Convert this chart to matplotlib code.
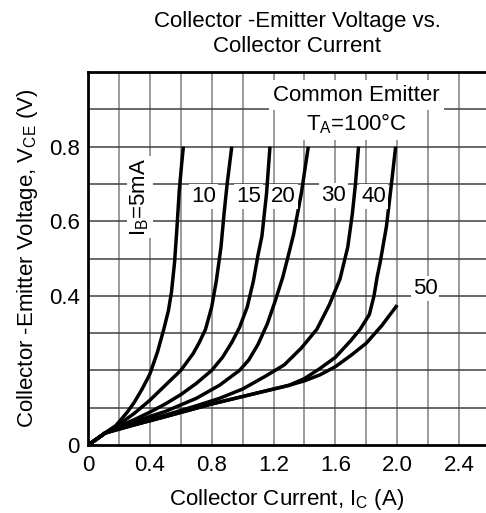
import matplotlib
matplotlib.use("Agg")
import matplotlib.pyplot as plt

plt.rcParams['font.family'] = ['Liberation Sans', 'DejaVu Sans']

# Data (I_C in A, V_CE in V)
ic_5 = [0, 0.06, 0.11, 0.18, 0.25, 0.30, 0.35, 0.40, 0.45, 0.49, 0.52, 0.54, 0.56, 0.575, 0.59, 0.605, 0.617]
vce_5 = [0, 0.017, 0.032, 0.052, 0.086, 0.115, 0.15, 0.19, 0.25, 0.31, 0.36, 0.41, 0.49, 0.58, 0.68, 0.75, 0.8]

ic_10 = [0, 0.06, 0.11, 0.2, 0.3, 0.4, 0.5, 0.6, 0.68, 0.72, 0.76, 0.80, 0.83, 0.86, 0.88, 0.90, 0.93]
vce_10 = [0, 0.017, 0.032, 0.055, 0.085, 0.12, 0.16, 0.2, 0.245, 0.275, 0.31, 0.37, 0.44, 0.53, 0.62, 0.70, 0.8]

ic_15 = [0, 0.06, 0.11, 0.2, 0.3, 0.4, 0.5, 0.6, 0.7, 0.8, 0.87, 0.93, 0.98, 1.03, 1.07, 1.10, 1.125, 1.155, 1.177]
vce_15 = [0, 0.017, 0.032, 0.05, 0.068, 0.088, 0.11, 0.135, 0.165, 0.2, 0.235, 0.275, 0.315, 0.37, 0.44, 0.51, 0.56, 0.675, 0.8]

ic_20 = [0, 0.06, 0.11, 0.3, 0.5, 0.7, 0.85, 0.98, 1.04, 1.10, 1.16, 1.21, 1.26, 1.30, 1.33, 1.38, 1.425]
vce_20 = [0, 0.017, 0.032, 0.063, 0.09, 0.125, 0.16, 0.2, 0.228, 0.27, 0.325, 0.385, 0.45, 0.515, 0.565, 0.675, 0.8]

ic_30 = [0, 0.06, 0.11, 0.3, 0.5, 0.7, 0.85, 1.0, 1.15, 1.27, 1.38, 1.48, 1.56, 1.63, 1.68, 1.71, 1.73, 1.75]
vce_30 = [0, 0.017, 0.032, 0.058, 0.08, 0.105, 0.125, 0.15, 0.185, 0.215, 0.26, 0.31, 0.375, 0.445, 0.53, 0.62, 0.70, 0.8]

ic_40 = [0, 0.06, 0.11, 0.3, 0.5, 0.8, 1.0, 1.2, 1.3, 1.4, 1.5, 1.6, 1.7, 1.76, 1.82, 1.85, 1.87, 1.89, 1.93, 1.96, 1.99]
vce_40 = [0, 0.017, 0.032, 0.054, 0.076, 0.11, 0.13, 0.15, 0.16, 0.178, 0.205, 0.235, 0.28, 0.31, 0.35, 0.40, 0.45, 0.49, 0.585, 0.69, 0.8]

ic_50 = [0, 0.06, 0.11, 0.3, 0.5, 0.8, 1.0, 1.2, 1.3, 1.4, 1.5, 1.6, 1.7, 1.8, 1.9, 2.0]
vce_50 = [0, 0.017, 0.032, 0.054, 0.076, 0.11, 0.13, 0.15, 0.16, 0.172, 0.188, 0.21, 0.24, 0.273, 0.32, 0.375]

curves = [(ic_5, vce_5), (ic_10, vce_10), (ic_15, vce_15), (ic_20, vce_20),
          (ic_30, vce_30), (ic_40, vce_40), (ic_50, vce_50)]

curve_labels = ["10", "15", "20", "30", "40", "50"]
curve_label_x = [0.746, 1.037, 1.263, 1.587, 1.846, 2.18]
curve_label_y = [0.666, 0.666, 0.666, 0.668, 0.666, 0.42]

x_ticks = [0, 0.4, 0.8, 1.2, 1.6, 2.0, 2.4]
x_ticklabels = ["0", "0.4", "0.8", "1.2", "1.6", "2.0", "2.4"]
y_ticks = [0, 0.4, 0.6, 0.8]
y_ticklabels = ["0", "0.4", "0.6", "0.8"]

FS = 16

fig = plt.figure(figsize=(4.86, 5.13), dpi=100)
ax = fig.add_axes([88 / 486, 68 / 513, 1 - 88 / 486, (445 - 72) / 513])
ax.set_xlim(0, (486 - 88) / 154.6)
ax.set_ylim(0, 1.0)

# grid
for i in range(1, 13):
    ax.axvline(i * 0.2, color='#808080', lw=1.1, zorder=1)
for j in range(1, 10):
    ax.axhline(j * 0.1, color='#404040', lw=1.1, zorder=1)

for ic, v in curves:
    ax.plot(ic, v, color='black', lw=2.5, solid_joinstyle='round',
            solid_capstyle='butt', zorder=3)

bbox = dict(facecolor='white', edgecolor='none', pad=1.5)
for lab, lx, ly in zip(curve_labels, curve_label_x, curve_label_y):
    ax.text(lx, ly, lab, fontsize=FS, ha='center', va='center', bbox=bbox, zorder=4)

ax.text(0.336, 0.665, r"I$_\mathregular{B}$=5mA", fontsize=FS, rotation=90,
        ha='center', va='center', bbox=bbox, zorder=4)
ax.text(1.738, 0.938, "Common Emitter", fontsize=FS, ha='center', va='center',
        bbox=dict(facecolor='white', edgecolor='none', pad=3), zorder=4)
ax.text(1.738, 0.862, r"T$_\mathregular{A}$=100°C", fontsize=FS, ha='center', va='center',
        bbox=dict(facecolor='white', edgecolor='none', pad=3), zorder=4)

ax.set_xticks(x_ticks)
ax.set_xticklabels(x_ticklabels, fontsize=FS)
ax.set_yticks(y_ticks)
ax.set_yticklabels(y_ticklabels, fontsize=FS)
ax.tick_params(axis='x', length=0, pad=7)
ax.tick_params(axis='y', length=0, pad=6)

for s in ['left', 'bottom', 'top']:
    ax.spines[s].set_linewidth(2)
    ax.spines[s].set_color('black')
ax.spines['right'].set_visible(False)

ax.set_xlabel(r"Collector Current, I$_\mathregular{C}$ (A)", fontsize=FS, labelpad=8)
ax.set_ylabel(r"Collector -Emitter Voltage, V$_\mathregular{CE}$ (V)", fontsize=FS, labelpad=6)

fig.text(297 / 486, 1 - 21 / 513, "Collector -Emitter Voltage vs.", fontsize=FS,
         ha='center', va='center')
fig.text(297 / 486, 1 - 47 / 513, "Collector Current", fontsize=FS,
         ha='center', va='center')

fig.savefig("out.png", dpi=100)
